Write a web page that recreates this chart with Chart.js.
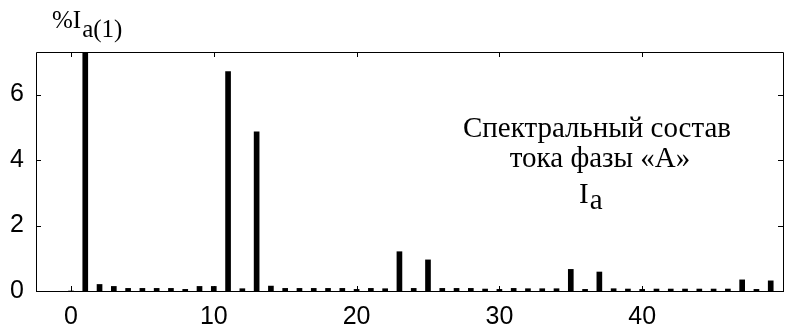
<!DOCTYPE html>
<html>
<head>
<meta charset="utf-8">
<script src="https://cdn.jsdelivr.net/npm/chart.js@4"></script>
<style>
  html, body { margin: 0; padding: 0; background: #fff; }
  #wrap { width: 785px; height: 324px; position: relative; }
</style>
</head>
<body>
<div id="wrap"><canvas id="spectrum"></canvas></div>
<script>
// harmonic numbers and their level in % of I_a(1)
const harmonics = []
for (let i = 0; i < 50; i++) harmonics.push(i)
const levels = [
  0, 100, 0.2, 0.14, 0.08, 0.08, 0.08, 0.08, 0.05, 0.14,
  0.14, 6.7, 0.07, 4.86, 0.15, 0.08, 0.08, 0.08, 0.08, 0.08,
  0.05, 0.08, 0.07, 1.2, 0.08, 0.95, 0.08, 0.08, 0.08, 0.06,
  0.05, 0.08, 0.07, 0.07, 0.07, 0.66, 0.05, 0.58, 0.07, 0.06,
  0.05, 0.06, 0.06, 0.06, 0.06, 0.06, 0.06, 0.34, 0.05, 0.31
]
const xTicks = [0, 10, 20, 30, 40]
const yTicks = [0, 2, 4, 6]
const noteLines = ['Спектральный состав', 'тока фазы «А»']

// box with inward ticks, like the old plot
const frame = {
  id: 'frame',
  afterDatasetsDraw(chart) {
    const { ctx, chartArea: a, scales: { x, y } } = chart
    ctx.save()
    ctx.strokeStyle = '#000'
    ctx.lineWidth = 1
    ctx.beginPath()
    ctx.rect(Math.round(a.left) + 0.5, Math.round(a.top) + 0.5, Math.round(a.right - a.left) - 1, Math.round(a.bottom - a.top))
    xTicks.forEach(v => {
      const px = Math.round(x.getPixelForValue(v)) + 0.5
      ctx.moveTo(px, a.bottom); ctx.lineTo(px, a.bottom - 5)
      ctx.moveTo(px, a.top); ctx.lineTo(px, a.top + 5)
    })
    yTicks.forEach(v => {
      const py = Math.round(y.getPixelForValue(v)) + 0.5
      ctx.moveTo(a.left, py); ctx.lineTo(a.left + 5, py)
      ctx.moveTo(a.right, py); ctx.lineTo(a.right - 6, py)
    })
    ctx.stroke()

    ctx.fillStyle = '#000'
    ctx.textBaseline = 'alphabetic'
    // y axis title
    ctx.font = '25px "Liberation Serif"'
    ctx.textAlign = 'left'
    ctx.fillText('%I', 52, 28)
    const w = ctx.measureText('%I').width
    ctx.fillText('a(1)', 52 + w + 1, 37)

    // note inside the plot
    ctx.font = '29px "Liberation Serif"'
    ctx.textAlign = 'center'
    ctx.fillText(noteLines[0], 597, 137)
    ctx.fillText(noteLines[1], 600, 167)
    ctx.textAlign = 'left'
    ctx.fillText('I', 579, 203)
    ctx.fillText('a', 579 + ctx.measureText('I').width + 1, 209)
    ctx.restore()
  }
}

new Chart(document.getElementById('spectrum'), {
  type: 'bar',
  data: {
    datasets: [{
      data: harmonics.map((h, i) => ({ x: h, y: levels[i] })),
      backgroundColor: '#000',
      borderWidth: 0,
      barThickness: 5
    }]
  },
  options: {
    responsive: true,
    maintainAspectRatio: false,
    animation: false,
    layout: { padding: { top: 52, right: 1, left: 0, bottom: 0 } },
    plugins: { legend: { display: false }, tooltip: { enabled: false } },
    scales: {
      x: {
        type: 'linear',
        min: -2.45,
        max: 49.93,
        offset: false,
        grid: { display: false, drawTicks: false, tickLength: 0 },
        border: { display: false },
        afterBuildTicks: s => { s.ticks = xTicks.map(v => ({ value: v })) },
        afterFit: s => { s.height = 33 },
        ticks: { color: '#000', padding: 11, maxRotation: 0, font: { family: 'Liberation Sans', size: 25 } }
      },
      y: {
        min: 0,
        max: 7.3,
        grid: { display: false, drawTicks: false, tickLength: 0 },
        border: { display: false },
        afterBuildTicks: s => { s.ticks = yTicks.map(v => ({ value: v })) },
        afterFit: s => { s.width = 36 },
        ticks: { color: '#000', padding: 12, font: { family: 'Liberation Sans', size: 25 } }
      }
    }
  },
  plugins: [frame]
})
</script>
</body>
</html>
